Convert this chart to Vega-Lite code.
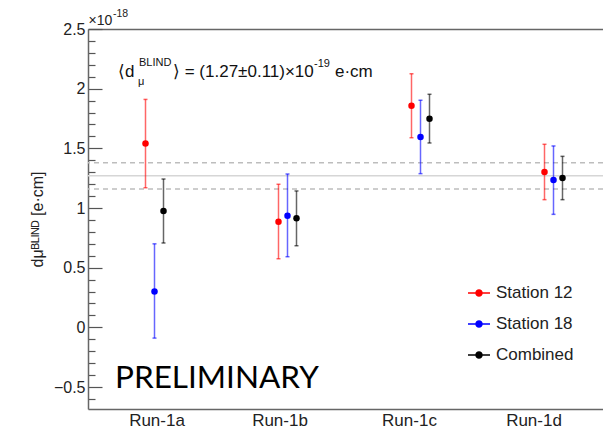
{
  "$schema": "https://vega.github.io/schema/vega-lite/v6.json",
  "width": 515,
  "height": 380,
  "autosize": {"type": "none"},
  "padding": {"left": 88, "top": 29, "right": 0, "bottom": 22},
  "background": "white",
  "config": {"view": {"stroke": null}, "font": "Liberation Sans"},
  "datasets": {
    "points": [
      {"run": "Run-1a", "series": "Station 12", "value": 1.54, "lo": 1.17, "hi": 1.91},
      {"run": "Run-1a", "series": "Station 18", "value": 0.30, "lo": -0.09, "hi": 0.70},
      {"run": "Run-1a", "series": "Combined", "value": 0.975, "lo": 0.707, "hi": 1.243},
      {"run": "Run-1b", "series": "Station 12", "value": 0.885, "lo": 0.575, "hi": 1.199},
      {"run": "Run-1b", "series": "Station 18", "value": 0.936, "lo": 0.592, "hi": 1.285},
      {"run": "Run-1b", "series": "Combined", "value": 0.914, "lo": 0.684, "hi": 1.143},
      {"run": "Run-1c", "series": "Station 12", "value": 1.857, "lo": 1.589, "hi": 2.125},
      {"run": "Run-1c", "series": "Station 18", "value": 1.595, "lo": 1.288, "hi": 1.903},
      {"run": "Run-1c", "series": "Combined", "value": 1.748, "lo": 1.545, "hi": 1.953},
      {"run": "Run-1d", "series": "Station 12", "value": 1.302, "lo": 1.07, "hi": 1.534},
      {"run": "Run-1d", "series": "Station 18", "value": 1.235, "lo": 0.947, "hi": 1.52},
      {"run": "Run-1d", "series": "Combined", "value": 1.252, "lo": 1.07, "hi": 1.433}
    ],
    "lines": [
      {"kind": "mean", "value": 1.27},
      {"kind": "band", "value": 1.16},
      {"kind": "band", "value": 1.38}
    ],
    "notes": [
      {"t1": "⟨d", "t2": "BLIND", "t3": "μ", "t4": "⟩ = (1.27±0.11)×10", "t5": "-19", "t6": "e·cm", "stamp": "PRELIMINARY", "exp": "-18"}
    ]
  },
  "layer": [
    {
      "data": {"name": "lines"},
      "transform": [{"filter": "datum.kind === 'mean'"}],
      "mark": {"type": "rule", "color": "#d6d6d6", "strokeWidth": 1.5},
      "encoding": {
        "y": {
          "field": "value", "type": "quantitative",
          "scale": {"domain": [-0.684, 2.5], "nice": false, "zero": false},
          "title": "dμᴮᴸᴵᴺᴰ [e·cm]",
          "axis": {
            "values": [-0.6,-0.5,-0.4,-0.3,-0.2,-0.1,0,0.1,0.2,0.3,0.4,0.5,0.6,0.7,0.8,0.9,1,1.1,1.2,1.3,1.4,1.5,1.6,1.7,1.8,1.9,2,2.1,2.2,2.3,2.4,2.5],
            "tickCount": 100,
            "format": ".1~f",
            "labelExpr": "abs(datum.value*2 - round(datum.value*2)) < 0.001 ? datum.label : ''",
            "tickSize": {"condition": {"test": "abs(datum.value*2 - round(datum.value*2)) < 0.001", "value": -14}, "value": -7},
            "tickColor": "#555", "tickWidth": 1.2,
            "domainColor": "#666", "domainWidth": 1.5,
            "labelFontSize": 16, "labelFont": "Liberation Sans", "labelColor": "#222", "labelPadding": 17,
            "labelOverlap": false,
            "grid": false,
            "titleFontSize": 16, "titleFont": "Liberation Sans", "titleFontWeight": "normal", "titleColor": "#222", "titlePadding": 8
          }
        }
      }
    },
    {
      "data": {"name": "lines"},
      "transform": [{"filter": "datum.kind === 'band'"}],
      "mark": {"type": "rule", "color": "#bdbdbd", "strokeWidth": 1.5, "strokeDash": [5, 4]},
      "encoding": {
        "y": {"field": "value", "type": "quantitative"}
      }
    },
    {
      "data": {"name": "points"},
      "mark": {"type": "rule", "strokeWidth": 1.5, "opacity": 0.6},
      "encoding": {
        "x": {
          "field": "run", "type": "nominal",
          "scale": {"range": [0, 532], "paddingInner": 0, "paddingOuter": 0},
          "axis": {"orient": "top", "labels": false, "ticks": false, "domainColor": "#666", "domainWidth": 1.5,
                   "title": "×10", "titleX": 0, "titleY": -5, "titleAlign": "left", "titleAnchor": "start", "titleBaseline": "alphabetic",
                   "titleFontSize": 14, "titleFont": "Liberation Sans", "titleFontWeight": "normal", "titleColor": "#222"}
        },
        "xOffset": {"field": "series", "type": "nominal", "sort": ["Station 12", "Station 18", "Combined"], "scale": {"type": "point", "range": [53, 80]}},
        "y": {"field": "lo", "type": "quantitative"},
        "y2": {"field": "hi"},
        "color": {"field": "series", "type": "nominal"}
      }
    },
    {
      "data": {"name": "points"},
      "transform": [{"fold": ["lo", "hi"], "as": ["end", "bound"]}],
      "mark": {"type": "tick", "size": 4, "thickness": 1.5, "opacity": 0.6},
      "encoding": {
        "x": {"field": "run", "type": "nominal", "axis": null},
        "xOffset": {"field": "series", "type": "nominal", "sort": ["Station 12", "Station 18", "Combined"]},
        "y": {"field": "bound", "type": "quantitative"},
        "color": {"field": "series", "type": "nominal"}
      }
    },
    {
      "data": {"name": "points"},
      "mark": {"type": "point", "filled": true, "size": 42, "opacity": 1},
      "encoding": {
        "x": {
          "field": "run", "type": "nominal",
          "axis": {"orient": "bottom", "title": null, "ticks": false, "domainColor": "#666", "domainWidth": 1.5, "labelFontSize": 17, "labelFont": "Liberation Sans", "labelColor": "#222", "labelPadding": 3, "labelAngle": 0,
                   "labelOffset": {"condition": [
                     {"test": "datum.value === 'Run-1a'", "value": 2.5},
                     {"test": "datum.value === 'Run-1b'", "value": -7.5},
                     {"test": "datum.value === 'Run-1c'", "value": -11}
                   ], "value": -19.5}}
        },
        "xOffset": {"field": "series", "type": "nominal", "sort": ["Station 12", "Station 18", "Combined"]},
        "y": {"field": "value", "type": "quantitative"},
        "color": {
          "field": "series", "type": "nominal",
          "scale": {"domain": ["Station 12", "Station 18", "Combined"], "range": ["#ff0000", "#0000ff", "#000000"]},
          "legend": {
            "title": null, "orient": "none", "legendX": 379, "legendY": 252, "padding": 0,
            "labelFontSize": 17, "labelFont": "Liberation Sans", "labelColor": "#222", "labelOffset": 5,
            "symbolType": "M-1,0H1M-0.27,0A0.27,0.27,0,1,0,0.27,0A0.27,0.27,0,1,0,-0.27,0Z",
            "symbolSize": 484, "symbolStrokeWidth": 1.5, "symbolOpacity": 1, "rowPadding": 11,
            "encode": {"symbols": {"update": {"fill": {"scale": "color", "field": "value"}, "stroke": {"scale": "color", "field": "value"}, "opacity": {"value": 1}, "fillOpacity": {"value": 1}, "strokeOpacity": {"value": 1}}}}
          }
        }
      }
    },
    {
      "data": {"name": "notes"},
      "mark": {"type": "text", "align": "left", "baseline": "alphabetic", "fontSize": 10.5, "font": "Liberation Sans", "color": "#222", "dx": -41.5, "dy": -12},
      "encoding": {"x": {"datum": "Run-1a", "type": "nominal", "axis": null}, "y": {"datum": 2.5, "type": "quantitative"}, "text": {"field": "exp"}}
    },
    {
      "data": {"name": "notes"},
      "mark": {"type": "text", "align": "left", "baseline": "alphabetic", "fontSize": 17, "font": "Liberation Sans", "color": "#111", "dx": -36.5},
      "encoding": {"x": {"datum": "Run-1a", "type": "nominal", "axis": null}, "y": {"datum": 2.1, "type": "quantitative"}, "text": {"field": "t1"}}
    },
    {
      "data": {"name": "notes"},
      "mark": {"type": "text", "align": "left", "baseline": "alphabetic", "fontSize": 11, "font": "Liberation Sans", "color": "#111", "dx": -15.5, "dy": -11},
      "encoding": {"x": {"datum": "Run-1a", "type": "nominal", "axis": null}, "y": {"datum": 2.1, "type": "quantitative"}, "text": {"field": "t2"}}
    },
    {
      "data": {"name": "notes"},
      "mark": {"type": "text", "align": "left", "baseline": "alphabetic", "fontSize": 11, "font": "Liberation Sans", "color": "#111", "dx": -16.5, "dy": 8},
      "encoding": {"x": {"datum": "Run-1a", "type": "nominal", "axis": null}, "y": {"datum": 2.1, "type": "quantitative"}, "text": {"field": "t3"}}
    },
    {
      "data": {"name": "notes"},
      "mark": {"type": "text", "align": "left", "baseline": "alphabetic", "fontSize": 17, "font": "Liberation Sans", "color": "#111", "dx": 18.5},
      "encoding": {"x": {"datum": "Run-1a", "type": "nominal", "axis": null}, "y": {"datum": 2.1, "type": "quantitative"}, "text": {"field": "t4"}}
    },
    {
      "data": {"name": "notes"},
      "mark": {"type": "text", "align": "left", "baseline": "alphabetic", "fontSize": 11, "font": "Liberation Sans", "color": "#111", "dx": 159.5, "dy": -10},
      "encoding": {"x": {"datum": "Run-1a", "type": "nominal", "axis": null}, "y": {"datum": 2.1, "type": "quantitative"}, "text": {"field": "t5"}}
    },
    {
      "data": {"name": "notes"},
      "mark": {"type": "text", "align": "left", "baseline": "alphabetic", "fontSize": 17, "font": "Liberation Sans", "color": "#111", "dx": 180.5},
      "encoding": {"x": {"datum": "Run-1a", "type": "nominal", "axis": null}, "y": {"datum": 2.1, "type": "quantitative"}, "text": {"field": "t6"}}
    },
    {
      "data": {"name": "notes"},
      "mark": {"type": "text", "align": "left", "baseline": "alphabetic", "fontSize": 31.5, "font": "Lato", "color": "#000", "dx": -39.5},
      "encoding": {"x": {"datum": "Run-1a", "type": "nominal", "axis": null}, "y": {"datum": -0.51, "type": "quantitative"}, "text": {"field": "stamp"}}
    }
  ],
  "resolve": {"axis": {"x": "independent"}}
}
